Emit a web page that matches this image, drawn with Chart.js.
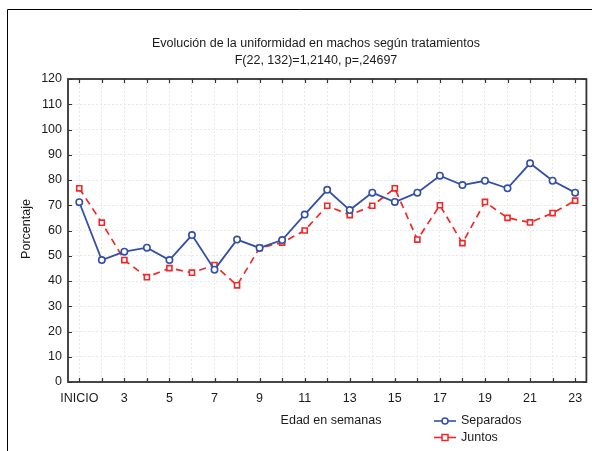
<!DOCTYPE html>
<html>
<head>
<meta charset="utf-8">
<script src="https://cdn.jsdelivr.net/npm/chart.js@4.4.1/dist/chart.umd.min.js"></script>
<style>
  html, body { margin: 0; padding: 0; background: #fff; }
  #wrap { width: 592px; height: 451px; }
</style>
</head>
<body>
<div id="wrap"><canvas id="chart" width="592" height="451"></canvas></div>
<script>
// Data
const weeks = ["INICIO", "2", "3", "4", "5", "6", "7", "8", "9", "10", "11", "12",
  "13", "14", "15", "16", "17", "18", "19", "20", "21", "22", "23"];
const separados = [71.2, 48.3, 51.6, 53.2, 48.3, 58.2, 44.5, 56.4, 53.1, 56.2, 66.3, 76.1,
  68.1, 75.0, 71.3, 75.0, 81.7, 78.0, 79.7, 76.7, 86.6, 79.7, 75.0];
const juntos = [76.7, 63.1, 48.3, 41.5, 45.1, 43.3, 46.3, 38.3, 53.1, 55.2, 60.0, 69.8,
  66.1, 69.8, 76.7, 56.4, 70.0, 55.0, 71.3, 65.0, 63.2, 66.9, 71.8];
const yTicks = [0, 10, 20, 30, 40, 50, 60, 70, 80, 90, 100, 110, 120];

const titleLines = ["Evolución de la uniformidad en machos según tratamientos",
  "F(22, 132)=1,2140, p=,24697"];

const BLUE = '#3350a6';
const RED = '#f02828';
const FONT = '"Liberation Sans", Arial, sans-serif';

// frame, inward ticks, titles and legend
const decorations = {
  id: 'decorations',
  beforeDraw(chart) {
    const ctx = chart.ctx;
    ctx.save();
    ctx.fillStyle = '#fff';
    ctx.fillRect(0, 0, chart.width, chart.height);
    ctx.strokeStyle = '#000';
    ctx.lineWidth = 1;
    ctx.beginPath();
    ctx.moveTo(7.5, chart.height);
    ctx.lineTo(7.5, 9.5);
    ctx.lineTo(chart.width, 9.5);
    ctx.stroke();
    ctx.restore();
  },
  afterDatasetsDraw(chart) {
    const ctx = chart.ctx;
    const a = chart.chartArea;
    const x = chart.scales.x, y = chart.scales.y;
    ctx.save();
    ctx.strokeStyle = '#333';
    ctx.lineWidth = 1.8;
    ctx.strokeRect(a.left, a.top, a.right - a.left, a.bottom - a.top);
    ctx.lineWidth = 1.2;
    ctx.beginPath();
    weeks.forEach((w, i) => {
      const px = Math.round(x.getPixelForValue(i)) + 0.5;
      ctx.moveTo(px, a.bottom); ctx.lineTo(px, a.bottom - 4);
      ctx.moveTo(px, a.top); ctx.lineTo(px, a.top + 4);
    });
    yTicks.forEach(v => {
      const py = Math.round(y.getPixelForValue(v)) + 0.5;
      ctx.moveTo(a.left, py); ctx.lineTo(a.left + 4, py);
      ctx.moveTo(a.right, py); ctx.lineTo(a.right - 4, py);
    });
    ctx.stroke();

    ctx.fillStyle = '#1a1a1a';
    ctx.font = '12.5px ' + FONT;
    ctx.textAlign = 'center';
    ctx.textBaseline = 'middle';
    ctx.fillText(titleLines[0], 316, 44);
    ctx.fillText(titleLines[1], 316, 61);
    ctx.fillText('Edad en semanas', 331, 421);

    ctx.save();
    ctx.translate(27, 229);
    ctx.rotate(-Math.PI / 2);
    ctx.fillText('Porcentaje', 0, 0);
    ctx.restore();

    // legend
    const items = [
      { label: 'Separados', color: BLUE, shape: 'circle' },
      { label: 'Juntos', color: RED, shape: 'square' }
    ];
    items.forEach((it, k) => {
      const ly = 421 + k * 16.5;
      ctx.strokeStyle = it.color;
      ctx.lineWidth = 1.6;
      ctx.beginPath();
      ctx.moveTo(434, ly); ctx.lineTo(456, ly);
      ctx.stroke();
      ctx.fillStyle = '#fff';
      ctx.lineWidth = 1.5;
      ctx.beginPath();
      if (it.shape === 'circle') ctx.arc(445, ly, 3, 0, Math.PI * 2);
      else ctx.rect(442, ly - 3, 6, 6);
      ctx.fill(); ctx.stroke();
      ctx.fillStyle = '#1a1a1a';
      ctx.textAlign = 'left';
      ctx.fillText(it.label, 461, ly);
    });
    ctx.restore();
  }
};

new Chart(document.getElementById('chart'), {
  type: 'line',
  data: {
    labels: weeks,
    datasets: [{
      label: 'Separados',
      data: separados,
      borderColor: BLUE,
      borderWidth: 1.8,
      pointStyle: 'circle',
      pointRadius: 3.2,
      pointBorderWidth: 1.6,
      pointBackgroundColor: '#fff',
      pointBorderColor: BLUE,
      tension: 0
    }, {
      label: 'Juntos',
      data: juntos,
      borderColor: RED,
      borderWidth: 1.7,
      borderDash: [7, 5],
      pointStyle: 'rect',
      pointRadius: 3.6,
      pointBorderWidth: 1.6,
      pointBackgroundColor: '#fff',
      pointBorderColor: RED,
      tension: 0
    }]
  },
  options: {
    responsive: false,
    animation: false,
    layout: { padding: { top: 79, right: 5, left: 0, bottom: 0 } },
    plugins: {
      legend: { display: false },
      title: { display: false },
      tooltip: { enabled: false }
    },
    scales: {
      x: {
        offset: true,
        afterFit: s => { s.height = 69; },
        grid: {
          offset: false,
          drawTicks: false,
          color: '#e8e8e8',
          lineWidth: 1
        },
        border: { display: false, dash: [2, 2] },
        ticks: {
          autoSkip: false,
          maxRotation: 0,
          padding: 9,
          color: '#1a1a1a',
          font: { size: 12.5, family: FONT },
          callback: (v, i) => (i % 2 === 0 ? weeks[i] : '')
        }
      },
      y: {
        min: 0,
        max: 120,
        afterFit: s => { s.width = 68; },
        afterBuildTicks: s => { s.ticks = yTicks.map(v => ({ value: v })); },
        grid: { drawTicks: false, color: '#e8e8e8', lineWidth: 1 },
        border: { display: false, dash: [2, 2] },
        ticks: {
          padding: 6,
          color: '#1a1a1a',
          font: { size: 12.5, family: FONT }
        }
      }
    }
  },
  plugins: [decorations]
});
</script>
</body>
</html>
